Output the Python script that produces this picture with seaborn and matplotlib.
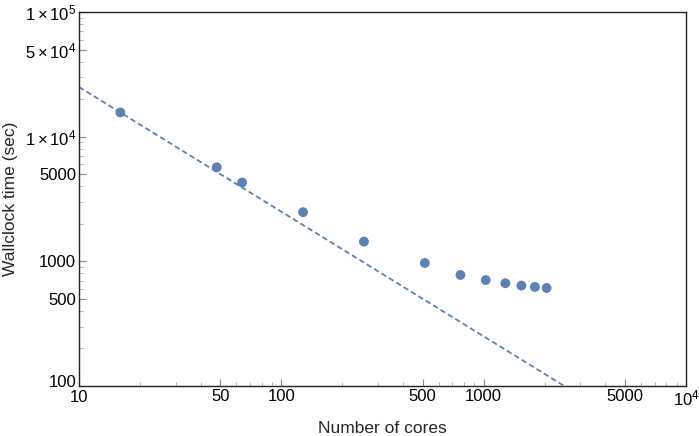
import numpy as np
import pandas as pd
import matplotlib
matplotlib.use("Agg")
import matplotlib.pyplot as plt
import matplotlib.ticker as mticker
import matplotlib.transforms as mtransforms
import seaborn as sns

cores = [16, 48, 64, 128, 256, 512, 768, 1024, 1280, 1536, 1792, 2048]
wallclock = [15640, 5680, 4285, 2480, 1440, 970, 777, 708, 667, 639, 623, 611]
ideal_x = [10, 10000]

x_ticks = [10, 50, 100, 500, 1000, 5000, 10000]
x_labels = ["10", "50", "100", "500", "1000", "5000", r"$10^4$"]
y_ticks = [100, 500, 1000, 5000, 10000, 50000, 100000]
y_labels = ["100", "500", "1000", "5000", r"$1\times10^4$", r"$5\times10^4$", r"$1\times10^5$"]

color = "#5E81B5"

sns.set_style("white")
plt.rcParams['font.family'] = ['Liberation Sans', 'DejaVu Sans']
plt.rcParams['mathtext.fontset'] = 'custom'
plt.rcParams['mathtext.rm'] = 'Liberation Sans'
plt.rcParams['mathtext.it'] = 'Liberation Sans'

fig = plt.figure(figsize=(6.99, 4.36), dpi=100)
ax = fig.add_axes([79/699, 50/436, 607/699, 374/436])

df = pd.DataFrame({"cores": cores, "time": wallclock})
ideal = pd.DataFrame({"cores": ideal_x,
                      "time": [wallclock[0] * cores[0] / v for v in ideal_x]})

sns.lineplot(data=ideal, x="cores", y="time", ax=ax, color=color,
             linestyle=(0, (3, 1.8)), linewidth=1.3)
sns.scatterplot(data=df, x="cores", y="time", ax=ax, color=color,
                s=50, edgecolor="none", zorder=3)

ax.set_xscale("log")
ax.set_yscale("log")
ax.set_xlim(10, 10000)
ax.set_ylim(100, 100000)

ax.set_xticks(x_ticks)
ax.set_xticklabels(x_labels)
ax.set_yticks(y_ticks)
ax.set_yticklabels(y_labels)
ax.xaxis.set_minor_locator(mticker.LogLocator(base=10, subs=np.arange(2, 10)))
ax.yaxis.set_minor_locator(mticker.LogLocator(base=10, subs=np.arange(2, 10)))
ax.xaxis.set_minor_formatter(mticker.NullFormatter())
ax.yaxis.set_minor_formatter(mticker.NullFormatter())

ax.tick_params(which="major", direction="in", length=5, width=0.8, color="#888888",
               labelsize=12, labelcolor="black", pad=2, top=False, right=False,
               bottom=True, left=True)
ax.tick_params(which="minor", direction="in", length=3, width=0.6, color="#aaaaaa",
               top=False, right=False, bottom=True, left=True)

# nudge the corner labels apart as in the reference
lab100 = ax.get_yticklabels()[0]
lab100.set_transform(lab100.get_transform() +
                     mtransforms.ScaledTranslation(0, 5/100, fig.dpi_scale_trans))
lab10 = ax.get_xticklabels()[0]
lab10.set_transform(lab10.get_transform() +
                    mtransforms.ScaledTranslation(0, -1/100, fig.dpi_scale_trans))

for s in ax.spines.values():
    s.set_color("#222222")
    s.set_linewidth(1.0)

ax.set_xlabel("Number of cores", fontsize=12.5, labelpad=9)
ax.set_ylabel("Wallclock time (sec)", fontsize=12.5, labelpad=5)

fig.savefig("out.png", dpi=100)
